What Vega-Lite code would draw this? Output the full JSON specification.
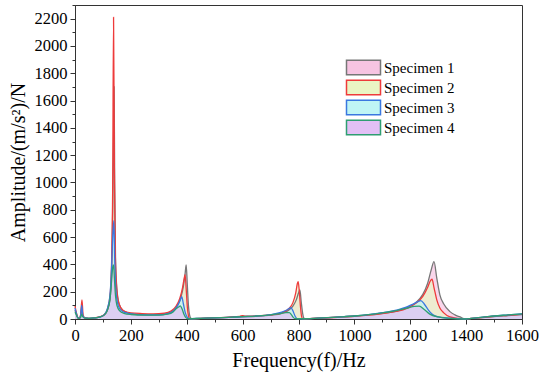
{
  "$schema": "https://vega.github.io/schema/vega-lite/v6.json",
  "width": 447,
  "height": 314,
  "autosize": {"type": "none"},
  "padding": {"left": 75, "top": 5, "right": 28, "bottom": 65},
  "background": "white",
  "config": {
    "view": {"stroke": "#333333", "strokeWidth": 1},
    "font": "Liberation Serif",
    "axis": {"grid": false, "domainColor": "#333333", "tickColor": "#333333", "labelFont": "Liberation Serif", "titleFont": "Liberation Serif", "labelColor": "#000000", "titleColor": "#000000", "labelFontSize": 16.5, "titleFontSize": 20, "titleFontWeight": "normal"}
  },
  "data": {"values": [
    {"s":"Specimen 1","f":0,"a":65},{"s":"Specimen 1","f":5,"a":35},{"s":"Specimen 1","f":10,"a":10},{"s":"Specimen 1","f":15,"a":5},{"s":"Specimen 1","f":20,"a":20},{"s":"Specimen 1","f":24,"a":80},{"s":"Specimen 1","f":28,"a":25},{"s":"Specimen 1","f":35,"a":8},{"s":"Specimen 1","f":50,"a":5},{"s":"Specimen 1","f":70,"a":8},{"s":"Specimen 1","f":90,"a":15},{"s":"Specimen 1","f":105,"a":30},{"s":"Specimen 1","f":115,"a":60},{"s":"Specimen 1","f":125,"a":140},{"s":"Specimen 1","f":131,"a":350},{"s":"Specimen 1","f":135,"a":800},{"s":"Specimen 1","f":138,"a":1300},{"s":"Specimen 1","f":140,"a":1700},{"s":"Specimen 1","f":142,"a":1000},{"s":"Specimen 1","f":145,"a":450},{"s":"Specimen 1","f":150,"a":220},{"s":"Specimen 1","f":158,"a":110},{"s":"Specimen 1","f":170,"a":65},{"s":"Specimen 1","f":190,"a":45},{"s":"Specimen 1","f":220,"a":35},{"s":"Specimen 1","f":260,"a":30},{"s":"Specimen 1","f":300,"a":32},{"s":"Specimen 1","f":330,"a":40},{"s":"Specimen 1","f":350,"a":60},{"s":"Specimen 1","f":365,"a":95},{"s":"Specimen 1","f":378,"a":150},{"s":"Specimen 1","f":388,"a":240},{"s":"Specimen 1","f":394,"a":330},{"s":"Specimen 1","f":398,"a":397},{"s":"Specimen 1","f":402,"a":250},{"s":"Specimen 1","f":406,"a":100},{"s":"Specimen 1","f":410,"a":30},{"s":"Specimen 1","f":415,"a":5},{"s":"Specimen 1","f":420,"a":2},{"s":"Specimen 1","f":450,"a":5},{"s":"Specimen 1","f":500,"a":8},{"s":"Specimen 1","f":550,"a":12},{"s":"Specimen 1","f":600,"a":16},{"s":"Specimen 1","f":650,"a":20},{"s":"Specimen 1","f":700,"a":28},{"s":"Specimen 1","f":740,"a":42},{"s":"Specimen 1","f":765,"a":65},{"s":"Specimen 1","f":780,"a":95},{"s":"Specimen 1","f":792,"a":140},{"s":"Specimen 1","f":800,"a":190},{"s":"Specimen 1","f":805,"a":213},{"s":"Specimen 1","f":810,"a":120},{"s":"Specimen 1","f":815,"a":40},{"s":"Specimen 1","f":820,"a":5},{"s":"Specimen 1","f":825,"a":2},{"s":"Specimen 1","f":870,"a":6},{"s":"Specimen 1","f":950,"a":15},{"s":"Specimen 1","f":1000,"a":22},{"s":"Specimen 1","f":1050,"a":30},{"s":"Specimen 1","f":1100,"a":42},{"s":"Specimen 1","f":1150,"a":58},{"s":"Specimen 1","f":1190,"a":85},{"s":"Specimen 1","f":1220,"a":120},{"s":"Specimen 1","f":1245,"a":180},{"s":"Specimen 1","f":1262,"a":260},{"s":"Specimen 1","f":1275,"a":360},{"s":"Specimen 1","f":1285,"a":420},{"s":"Specimen 1","f":1295,"a":300},{"s":"Specimen 1","f":1306,"a":177},{"s":"Specimen 1","f":1320,"a":110},{"s":"Specimen 1","f":1342,"a":54},{"s":"Specimen 1","f":1360,"a":30},{"s":"Specimen 1","f":1378,"a":15},{"s":"Specimen 1","f":1396,"a":0},{"s":"Specimen 1","f":1420,"a":4},{"s":"Specimen 1","f":1460,"a":10},{"s":"Specimen 1","f":1500,"a":18},{"s":"Specimen 1","f":1550,"a":25},{"s":"Specimen 1","f":1600,"a":32},

    {"s":"Specimen 2","f":0,"a":95},{"s":"Specimen 2","f":5,"a":45},{"s":"Specimen 2","f":10,"a":12},{"s":"Specimen 2","f":15,"a":5},{"s":"Specimen 2","f":20,"a":30},{"s":"Specimen 2","f":25,"a":140},{"s":"Specimen 2","f":29,"a":30},{"s":"Specimen 2","f":35,"a":8},{"s":"Specimen 2","f":50,"a":5},{"s":"Specimen 2","f":70,"a":9},{"s":"Specimen 2","f":90,"a":17},{"s":"Specimen 2","f":105,"a":33},{"s":"Specimen 2","f":115,"a":65},{"s":"Specimen 2","f":125,"a":160},{"s":"Specimen 2","f":131,"a":420},{"s":"Specimen 2","f":135,"a":1000},{"s":"Specimen 2","f":138,"a":2210},{"s":"Specimen 2","f":141,"a":1100},{"s":"Specimen 2","f":144,"a":500},{"s":"Specimen 2","f":148,"a":260},{"s":"Specimen 2","f":155,"a":130},{"s":"Specimen 2","f":165,"a":80},{"s":"Specimen 2","f":180,"a":55},{"s":"Specimen 2","f":200,"a":45},{"s":"Specimen 2","f":240,"a":40},{"s":"Specimen 2","f":280,"a":38},{"s":"Specimen 2","f":320,"a":42},{"s":"Specimen 2","f":345,"a":60},{"s":"Specimen 2","f":362,"a":95},{"s":"Specimen 2","f":375,"a":150},{"s":"Specimen 2","f":385,"a":230},{"s":"Specimen 2","f":391,"a":300},{"s":"Specimen 2","f":394,"a":324},{"s":"Specimen 2","f":398,"a":220},{"s":"Specimen 2","f":402,"a":90},{"s":"Specimen 2","f":406,"a":25},{"s":"Specimen 2","f":410,"a":3},{"s":"Specimen 2","f":415,"a":1},{"s":"Specimen 2","f":450,"a":5},{"s":"Specimen 2","f":500,"a":9},{"s":"Specimen 2","f":550,"a":14},{"s":"Specimen 2","f":590,"a":20},{"s":"Specimen 2","f":600,"a":25},{"s":"Specimen 2","f":610,"a":20},{"s":"Specimen 2","f":650,"a":22},{"s":"Specimen 2","f":700,"a":30},{"s":"Specimen 2","f":740,"a":45},{"s":"Specimen 2","f":765,"a":75},{"s":"Specimen 2","f":780,"a":120},{"s":"Specimen 2","f":790,"a":190},{"s":"Specimen 2","f":796,"a":260},{"s":"Specimen 2","f":799,"a":274},{"s":"Specimen 2","f":803,"a":200},{"s":"Specimen 2","f":807,"a":90},{"s":"Specimen 2","f":811,"a":20},{"s":"Specimen 2","f":815,"a":2},{"s":"Specimen 2","f":850,"a":4},{"s":"Specimen 2","f":950,"a":14},{"s":"Specimen 2","f":1000,"a":20},{"s":"Specimen 2","f":1050,"a":28},{"s":"Specimen 2","f":1100,"a":40},{"s":"Specimen 2","f":1150,"a":55},{"s":"Specimen 2","f":1190,"a":80},{"s":"Specimen 2","f":1220,"a":115},{"s":"Specimen 2","f":1245,"a":165},{"s":"Specimen 2","f":1262,"a":230},{"s":"Specimen 2","f":1272,"a":280},{"s":"Specimen 2","f":1278,"a":291},{"s":"Specimen 2","f":1285,"a":230},{"s":"Specimen 2","f":1295,"a":140},{"s":"Specimen 2","f":1306,"a":80},{"s":"Specimen 2","f":1320,"a":45},{"s":"Specimen 2","f":1342,"a":15},{"s":"Specimen 2","f":1370,"a":5},{"s":"Specimen 2","f":1396,"a":0},{"s":"Specimen 2","f":1420,"a":5},{"s":"Specimen 2","f":1460,"a":12},{"s":"Specimen 2","f":1500,"a":20},{"s":"Specimen 2","f":1550,"a":27},{"s":"Specimen 2","f":1600,"a":34},

    {"s":"Specimen 3","f":0,"a":80},{"s":"Specimen 3","f":5,"a":40},{"s":"Specimen 3","f":10,"a":10},{"s":"Specimen 3","f":15,"a":4},{"s":"Specimen 3","f":20,"a":25},{"s":"Specimen 3","f":24,"a":100},{"s":"Specimen 3","f":28,"a":25},{"s":"Specimen 3","f":35,"a":8},{"s":"Specimen 3","f":50,"a":5},{"s":"Specimen 3","f":70,"a":8},{"s":"Specimen 3","f":90,"a":16},{"s":"Specimen 3","f":105,"a":32},{"s":"Specimen 3","f":115,"a":70},{"s":"Specimen 3","f":125,"a":170},{"s":"Specimen 3","f":131,"a":380},{"s":"Specimen 3","f":135,"a":600},{"s":"Specimen 3","f":139,"a":720},{"s":"Specimen 3","f":142,"a":450},{"s":"Specimen 3","f":146,"a":220},{"s":"Specimen 3","f":152,"a":120},{"s":"Specimen 3","f":160,"a":75},{"s":"Specimen 3","f":175,"a":50},{"s":"Specimen 3","f":200,"a":38},{"s":"Specimen 3","f":250,"a":30},{"s":"Specimen 3","f":300,"a":30},{"s":"Specimen 3","f":330,"a":38},{"s":"Specimen 3","f":350,"a":55},{"s":"Specimen 3","f":365,"a":90},{"s":"Specimen 3","f":375,"a":130},{"s":"Specimen 3","f":382,"a":164},{"s":"Specimen 3","f":388,"a":110},{"s":"Specimen 3","f":395,"a":45},{"s":"Specimen 3","f":402,"a":12},{"s":"Specimen 3","f":410,"a":2},{"s":"Specimen 3","f":450,"a":5},{"s":"Specimen 3","f":500,"a":8},{"s":"Specimen 3","f":550,"a":12},{"s":"Specimen 3","f":600,"a":17},{"s":"Specimen 3","f":650,"a":22},{"s":"Specimen 3","f":700,"a":32},{"s":"Specimen 3","f":740,"a":50},{"s":"Specimen 3","f":760,"a":68},{"s":"Specimen 3","f":773,"a":83},{"s":"Specimen 3","f":780,"a":60},{"s":"Specimen 3","f":788,"a":20},{"s":"Specimen 3","f":795,"a":3},{"s":"Specimen 3","f":810,"a":2},{"s":"Specimen 3","f":870,"a":6},{"s":"Specimen 3","f":950,"a":15},{"s":"Specimen 3","f":1000,"a":22},{"s":"Specimen 3","f":1050,"a":32},{"s":"Specimen 3","f":1100,"a":46},{"s":"Specimen 3","f":1150,"a":65},{"s":"Specimen 3","f":1190,"a":90},{"s":"Specimen 3","f":1215,"a":115},{"s":"Specimen 3","f":1238,"a":134},{"s":"Specimen 3","f":1250,"a":110},{"s":"Specimen 3","f":1265,"a":65},{"s":"Specimen 3","f":1280,"a":32},{"s":"Specimen 3","f":1300,"a":15},{"s":"Specimen 3","f":1340,"a":6},{"s":"Specimen 3","f":1396,"a":0},{"s":"Specimen 3","f":1420,"a":5},{"s":"Specimen 3","f":1460,"a":13},{"s":"Specimen 3","f":1500,"a":22},{"s":"Specimen 3","f":1550,"a":30},{"s":"Specimen 3","f":1600,"a":38},

    {"s":"Specimen 4","f":0,"a":50},{"s":"Specimen 4","f":5,"a":30},{"s":"Specimen 4","f":10,"a":8},{"s":"Specimen 4","f":15,"a":4},{"s":"Specimen 4","f":20,"a":10},{"s":"Specimen 4","f":24,"a":35},{"s":"Specimen 4","f":28,"a":15},{"s":"Specimen 4","f":35,"a":6},{"s":"Specimen 4","f":50,"a":5},{"s":"Specimen 4","f":70,"a":8},{"s":"Specimen 4","f":90,"a":15},{"s":"Specimen 4","f":105,"a":30},{"s":"Specimen 4","f":115,"a":60},{"s":"Specimen 4","f":125,"a":140},{"s":"Specimen 4","f":131,"a":280},{"s":"Specimen 4","f":135,"a":380},{"s":"Specimen 4","f":138,"a":396},{"s":"Specimen 4","f":141,"a":300},{"s":"Specimen 4","f":145,"a":170},{"s":"Specimen 4","f":150,"a":100},{"s":"Specimen 4","f":160,"a":60},{"s":"Specimen 4","f":175,"a":42},{"s":"Specimen 4","f":200,"a":33},{"s":"Specimen 4","f":250,"a":28},{"s":"Specimen 4","f":300,"a":28},{"s":"Specimen 4","f":330,"a":35},{"s":"Specimen 4","f":350,"a":50},{"s":"Specimen 4","f":362,"a":75},{"s":"Specimen 4","f":372,"a":90},{"s":"Specimen 4","f":377,"a":96},{"s":"Specimen 4","f":383,"a":75},{"s":"Specimen 4","f":390,"a":35},{"s":"Specimen 4","f":397,"a":10},{"s":"Specimen 4","f":405,"a":2},{"s":"Specimen 4","f":450,"a":5},{"s":"Specimen 4","f":500,"a":8},{"s":"Specimen 4","f":550,"a":12},{"s":"Specimen 4","f":600,"a":17},{"s":"Specimen 4","f":650,"a":22},{"s":"Specimen 4","f":700,"a":30},{"s":"Specimen 4","f":735,"a":40},{"s":"Specimen 4","f":755,"a":46},{"s":"Specimen 4","f":767,"a":46},{"s":"Specimen 4","f":775,"a":30},{"s":"Specimen 4","f":782,"a":10},{"s":"Specimen 4","f":790,"a":2},{"s":"Specimen 4","f":810,"a":2},{"s":"Specimen 4","f":870,"a":6},{"s":"Specimen 4","f":950,"a":15},{"s":"Specimen 4","f":1000,"a":22},{"s":"Specimen 4","f":1050,"a":32},{"s":"Specimen 4","f":1100,"a":45},{"s":"Specimen 4","f":1150,"a":62},{"s":"Specimen 4","f":1190,"a":80},{"s":"Specimen 4","f":1215,"a":92},{"s":"Specimen 4","f":1232,"a":95},{"s":"Specimen 4","f":1250,"a":70},{"s":"Specimen 4","f":1270,"a":36},{"s":"Specimen 4","f":1300,"a":15},{"s":"Specimen 4","f":1340,"a":5},{"s":"Specimen 4","f":1396,"a":0},{"s":"Specimen 4","f":1420,"a":5},{"s":"Specimen 4","f":1460,"a":13},{"s":"Specimen 4","f":1500,"a":22},{"s":"Specimen 4","f":1550,"a":30},{"s":"Specimen 4","f":1600,"a":38}
  ]},
  "encoding": {
    "x": {"field": "f", "type": "quantitative", "scale": {"domain": [0, 1600], "nice": false},
      "axis": {"title": "Frequency(f)/Hz", "values": [0,100,200,300,400,500,600,700,800,900,1000,1100,1200,1300,1400,1500,1600],
        "format": "d", "labelFont": "Liberation Serif", "labelFontSize": 16.5,
        "labelExpr": "datum.value % 200 === 0 ? datum.label : ''", "labelFlush": false, "labelOverlap": false,
        "tickSize": {"condition": {"test": "datum.value % 200 === 0", "value": 5}, "value": 3},
        "labelPadding": 3, "titlePadding": 7}},
    "y": {"field": "a", "type": "quantitative", "stack": null, "scale": {"domain": [0, 2300], "nice": false},
      "axis": {"title": "Amplitude/(m/s²)/N", "values": [0,100,200,300,400,500,600,700,800,900,1000,1100,1200,1300,1400,1500,1600,1700,1800,1900,2000,2100,2200,2300],
        "format": "d", "labelFont": "Liberation Serif", "labelFontSize": 16.5,
        "labelExpr": "datum.value % 200 === 0 ? datum.label : ''", "labelOverlap": false, "labelFlush": false,
        "tickSize": {"condition": {"test": "datum.value % 200 === 0", "value": 5}, "value": 3},
        "labelPadding": 3, "titlePadding": 6}}
  },
  "layer": [
    {
      "mark": {"type": "area", "interpolate": "monotone", "fillOpacity": 0.7},
      "encoding": {
        "fill": {"field": "s", "type": "nominal",
          "scale": {"domain": ["Specimen 1","Specimen 2","Specimen 3","Specimen 4"], "range": ["#f7c4e2","#eaf5c4","#bff5f5","#e2c0f5"]},
          "legend": {"orient": "none", "legendX": 279, "legendY": 53, "title": null,
            "symbolType": "M-2,-0.85H2V0.85H-2Z", "symbolSize": 289, "symbolStrokeWidth": 1.5, "symbolOpacity": 1,
            "labelFont": "Liberation Serif", "labelFontSize": 15, "labelColor": "#000000", "labelOffset": 11, "rowPadding": -3}}
      }
    },
    {
      "mark": {"type": "line", "interpolate": "monotone", "strokeWidth": 1.3},
      "encoding": {
        "stroke": {"field": "s", "type": "nominal",
          "scale": {"domain": ["Specimen 1","Specimen 2","Specimen 3","Specimen 4"], "range": ["#777777","#ee3b3b","#3a78e0","#2f9e72"]},
          "legend": {"orient": "none", "legendX": 279, "legendY": 53, "title": null,
            "symbolType": "M-2,-0.85H2V0.85H-2Z", "symbolSize": 289, "symbolStrokeWidth": 1.5, "symbolOpacity": 1,
            "labelFont": "Liberation Serif", "labelFontSize": 15, "labelColor": "#000000", "labelOffset": 11, "rowPadding": -3}}
      }
    }
  ]
}
